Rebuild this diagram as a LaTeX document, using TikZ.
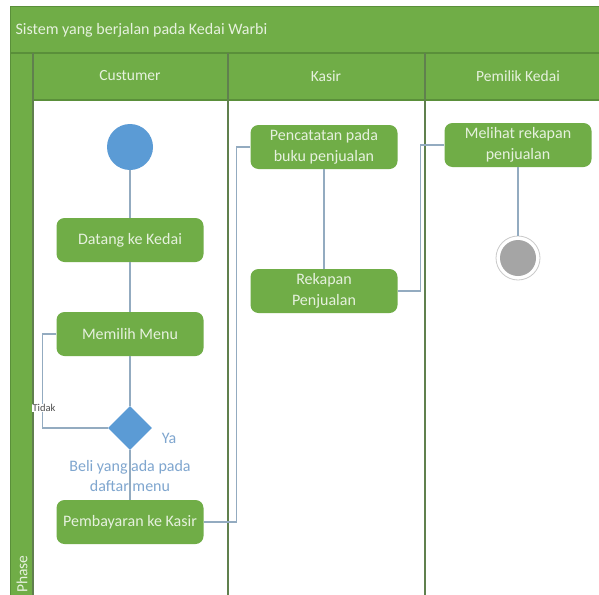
\documentclass[tikz,border=0pt]{standalone}
\usepackage{fontspec}
\setmainfont{Carlito}
\usetikzlibrary{shapes.geometric}
\definecolor{lanegreen}{HTML}{70AD47}
\definecolor{edgegreen}{HTML}{5A8F3A}
\definecolor{divgreen}{HTML}{60804E}
\definecolor{paletext}{HTML}{E6F1DE}
\definecolor{flowline}{HTML}{93ABC0}
\definecolor{nodeblue}{HTML}{5B9BD5}
\definecolor{guardblue}{HTML}{7FA6CF}
\definecolor{endgrey}{HTML}{A5A5A5}
\tikzset{
  activity/.style={rectangle, rounded corners=8pt, fill=lanegreen,
    minimum width=147pt, minimum height=44pt, align=center,
    text=paletext, font=\fontsize{16}{20.5}\selectfont, inner sep=2pt},
  flow/.style={draw=flowline, line width=1.1pt},
  header/.style={text=paletext, font=\fontsize{15.5}{18}\selectfont},
  guard/.style={text=guardblue, font=\fontsize{16}{20}\selectfont, align=center},
  divider/.style={draw=divgreen, line width=1.4pt}
}
\begin{document}
\begin{tikzpicture}[x=1pt,y=-1pt]
\useasboundingbox (0,0) rectangle (599,594);
\clip (0,0) rectangle (599,594);
\fill[white] (0,0) rectangle (599,594);

% title bar, lane headers and the phase strip
\fill[lanegreen] (10,7) rectangle (605,100);
\fill[lanegreen] (10,53) rectangle (33,600);
\draw[edgegreen, line width=1pt] (10,7) -- (605,7);
\draw[edgegreen, line width=1pt] (10,7) -- (10,600);
\draw[edgegreen, line width=1.2pt] (10,53) -- (605,53);
\draw[edgegreen, line width=1.2pt] (33,100) -- (605,100);
\draw[divgreen, line width=1.2pt] (33,53) -- (33,600);
\draw[divider] (228,53) -- (228,600);
\draw[divider] (425,53) -- (425,600);

\node[anchor=west, text=paletext, font=\fontsize{16}{18}\selectfont] (title) at (12,30) {Sistem yang berjalan pada Kedai Warbi};
\node[header] (hcust) at (130,76) {Custumer};
\node[header] (hkasir) at (326,76) {Kasir};
\node[header] (hpemilik) at (518,76) {Pemilik Kedai};
\node[header, rotate=90, anchor=west, inner sep=0pt] (phase) at (22,593) {Phase};

% Custumer lane
\node[circle, fill=nodeblue, minimum size=46pt, inner sep=0pt] (init) at (130,147) {};
\node[activity] (dt) at (130,240) {Datang ke Kedai};
\node[activity] (mm) at (130,334) {Memilih Menu};
\node[diamond, fill=nodeblue, minimum width=44pt, minimum height=44pt, inner sep=0pt] (dec) at (130,428) {};
\node[activity] (pb) at (130,522) {Pembayaran ke Kasir};

% Kasir lane
\node[activity] (pc) at (324,147) {Pencatatan pada\\buku penjualan};
\node[activity] (rk) at (324,291) {Rekapan\\Penjualan};

% Pemilik Kedai lane
\node[activity] (ml) at (518,145) {Melihat rekapan\\penjualan};
\node[circle, draw=endgrey!60, fill=white, line width=0.8pt, minimum size=44pt, inner sep=0pt] (fin) at (518,258) {};
\node[circle, fill=endgrey, minimum size=36pt, inner sep=0pt] (fincore) at (fin.center) {};

% control flow
\draw[flow] (init) -- (dt);
\draw[flow] (dt) -- (mm);
\draw[flow] (mm) -- (dec);
\draw[flow] (dec) -- (pb);
\draw[flow] (mm.west) -- ++(-14,0) |- (dec.west);
\draw[flow] (pb.east) -- ++(33,0) |- (pc.west);
\draw[flow] (pc) -- (rk);
\draw[flow] (rk.east) -- ++(23,0) |- (ml.west);
\draw[flow] (ml) -- (fin);

% guard labels
\node[guard] (ya) at (169,438) {Ya};
\node[guard] (beli) at (130,476) {Beli yang ada pada\\daftar menu};
\node[fill=white, inner sep=0.5pt, text=black!70, font=\fontsize{10.5}{12}\selectfont] (tidak) at (44,408) {Tidak};
\end{tikzpicture}
\end{document}
